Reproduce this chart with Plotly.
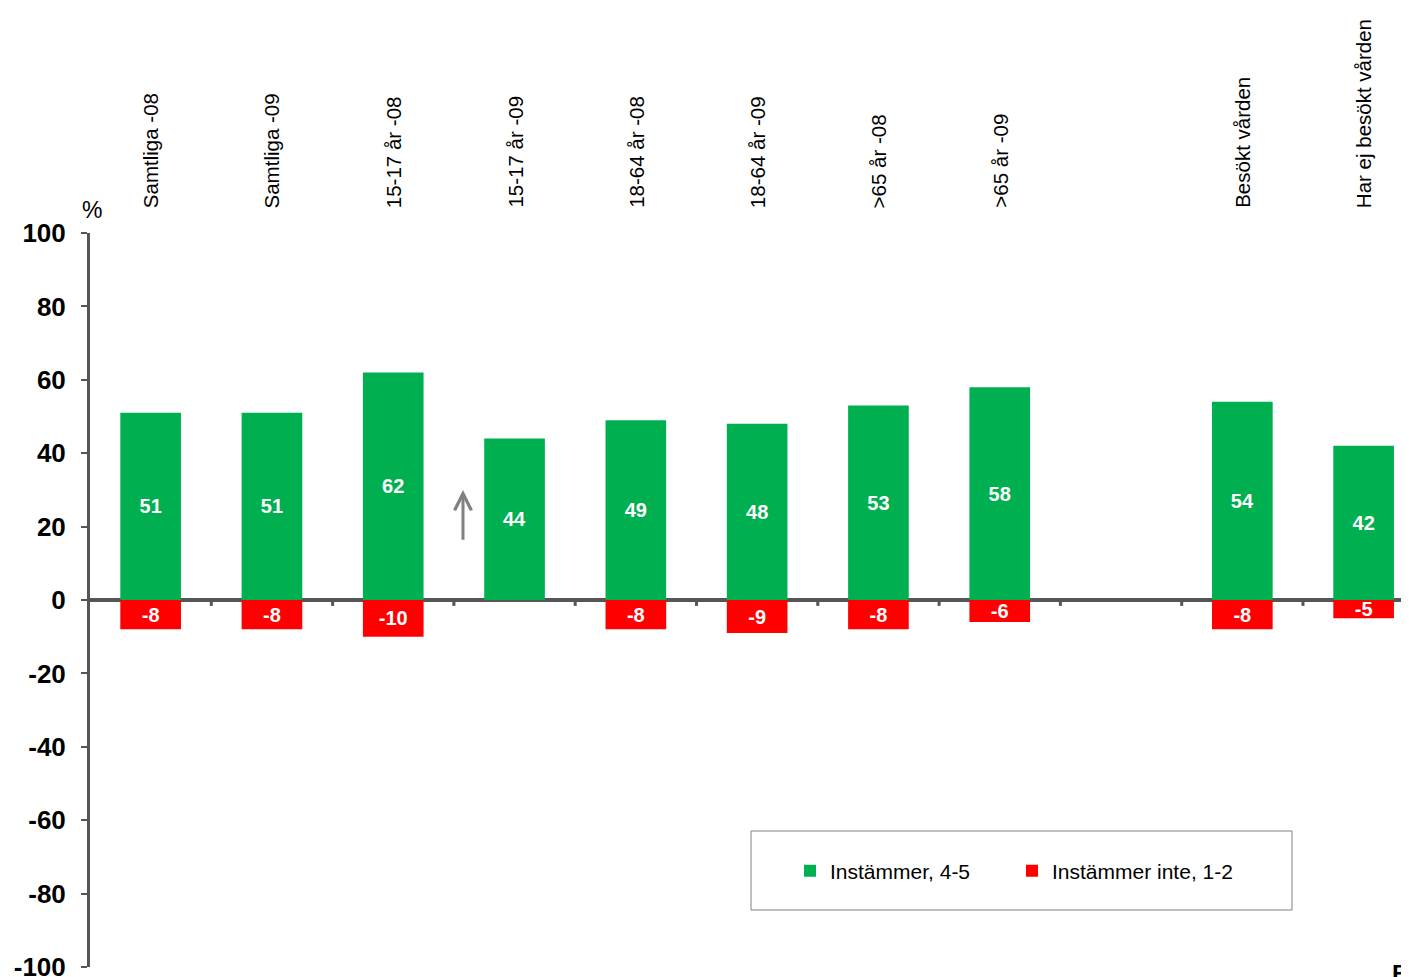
import plotly.graph_objects as go

categories = ["Samtliga -08", "Samtliga -09", "15-17 år -08", "15-17 år -09",
              "18-64 år -08", "18-64 år -09", ">65 år -08", ">65 år -09", " ",
              "Besökt vården", "Har ej besökt vården"]
agree = [51, 51, 62, 44, 49, 48, 53, 58, None, 54, 42]
disagree = [-8, -8, -10, 0, -8, -9, -8, -6, None, -8, -5]
y_ticks = [-100, -80, -60, -40, -20, 0, 20, 40, 60, 80, 100]
y_tick_text = [str(v) for v in y_ticks]

GREEN = "#00B050"
RED = "#FF0000"
AXIS = "#555555"
FONT = "Liberation Sans, Arial, sans-serif"

# page body has an 8px default margin; plot area spans page x 90..1409, y 233..967
OFF = 8
PL, PR, PT, PB = 90 - OFF, 1409 - OFF, 233 - OFF, 967 - OFF
W, H = 1409 - OFF, 977 - OFF
PW, PH = PR - PL, PB - PT


def fx(px):
    return (px - OFF - PL) / PW


def fy(py):
    return (PB - (py - OFF)) / PH


def labels(vals):
    return ["" if v is None else str(v) for v in vals]


fig = go.Figure()
fig.add_trace(go.Bar(
    x=categories, y=agree, name="Instämmer, 4-5", marker_color=GREEN,
    marker_line_width=0,
    width=0.5, text=labels(agree), textposition="inside",
    insidetextanchor="middle", textangle=0,
    textfont=dict(color="white", size=20, family=FONT, weight="bold"),
))
fig.add_trace(go.Bar(
    x=categories, y=disagree, name="Instämmer inte, 1-2", marker_color=RED,
    marker_line_width=0,
    width=0.5, text=labels(disagree), textposition="inside",
    insidetextanchor="middle", textangle=0,
    textfont=dict(color="white", size=20, family=FONT, weight="bold"),
))

# category labels on top, rotated
for c in categories:
    if c.strip():
        fig.add_annotation(x=c, y=1, xref="x", yref="paper", text=c,
                           textangle=-90, showarrow=False, xanchor="center",
                           yanchor="bottom", yshift=23,
                           font=dict(size=20.5, family=FONT, color="black"))

fig.add_annotation(x=0, y=1, xref="paper", yref="paper", text="%",
                   showarrow=False, xanchor="center", yanchor="bottom",
                   xshift=2, yshift=8,
                   font=dict(size=23, family=FONT, color="black"))

# arrow
fig.add_annotation(x=2.575, y=30, ax=2.575, ay=16, xref="x", yref="y",
                   axref="x", ayref="y", text="", showarrow=True,
                   arrowhead=5, arrowsize=1.1, arrowwidth=3, arrowcolor="#808080")

# cropped "B" bottom right
fig.add_annotation(x=1, y=0, xref="paper", yref="paper", text="<b>B</b>",
                   showarrow=False, xanchor="left", yanchor="top",
                   xshift=-19, yshift=9,
                   font=dict(size=24, family=FONT, color="black"))

# legend box
fig.add_shape(type="rect", xref="paper", yref="paper",
              x0=fx(751), x1=fx(1292), y0=fy(910), y1=fy(831),
              line=dict(color="#808080", width=1), fillcolor="white", layer="below")

fig.update_layout(
    width=W, height=H,
    margin=dict(l=PL, r=W - PR, t=PT, b=H - PB, autoexpand=False),
    paper_bgcolor="white", plot_bgcolor="white",
    barmode="relative", bargap=0.5,
    uniformtext=dict(minsize=20, mode="show"),
    showlegend=True,
    legend=dict(orientation="h", x=fx(790), xanchor="left",
                y=fy(871), yanchor="middle",
                bgcolor="rgba(0,0,0,0)", borderwidth=0,
                font=dict(size=21, family=FONT, color="black"),
                itemwidth=30, entrywidth=177, traceorder="normal"),
    font=dict(family=FONT),
    xaxis=dict(range=[-0.5, 10.374], showticklabels=False, showgrid=False,
               showline=False, zeroline=False, automargin=False,
               anchor="free", position=0.5,
               ticks="", fixedrange=True),
    yaxis=dict(range=[-100, 100], tickvals=y_ticks, ticktext=y_tick_text,
               showgrid=False, automargin=False, ticklabeloverflow="allow",
               zeroline=True, zerolinecolor=AXIS, zerolinewidth=3.5,
               showline=True, linecolor=AXIS, linewidth=3,
               ticks="outside", ticklen=6, tickwidth=2, tickcolor=AXIS,
               tickfont=dict(size=26, family=FONT, color="black", weight="bold"),
               ticklabelstandoff=10),
)

# boundary tick marks on the zero line
for i in range(len(categories)):
    xb = i + 0.5
    if xb < 10.374:
        fig.add_shape(type="line", xref="x", yref="y", x0=xb, x1=xb,
                      y0=0, y1=-1.6, line=dict(color=AXIS, width=3))

fig.write_html("out.html")
